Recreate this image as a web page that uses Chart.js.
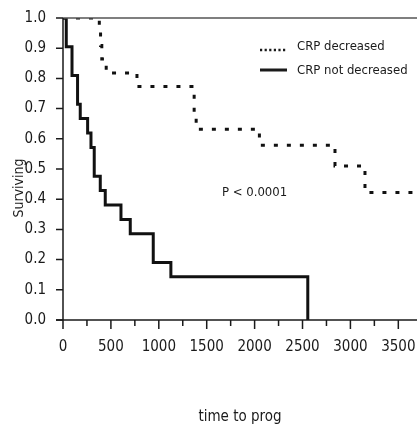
<!DOCTYPE html>
<html>
<head>
<meta charset="utf-8">
<script src="https://cdn.jsdelivr.net/npm/chart.js@4.4.1/dist/chart.umd.min.js"></script>
<style>
    html, body { margin: 0; padding: 0; background: #fff; overflow: hidden; }
    #wrap { width: 417px; height: 426px; position: relative; }
</style>
</head>
<body>
<div id="wrap"><canvas id="km"></canvas></div>
<script>
// Kaplan-Meier steps (time, surviving fraction)
const crpDecTime = [0, 379, 392, 405, 451, 772, 1369, 1390, 2050, 2839, 3152, 3695];
const crpDecSurv = [1.0, 0.955, 0.909, 0.864, 0.818, 0.773, 0.682, 0.632, 0.579, 0.51, 0.422, 0.422];

const crpNotTime = [0, 34, 94, 152, 180, 257, 292, 326, 389, 441, 605, 702, 942, 1126, 2555];
const crpNotSurv = [1.0, 0.905, 0.81, 0.714, 0.667, 0.619, 0.571, 0.476, 0.429, 0.381, 0.333, 0.286, 0.19, 0.143, 0];

const xTickValues = [0, 500, 1000, 1500, 2000, 2500, 3000, 3500];
const seriesNames = ["CRP decreased", "CRP not decreased"];
const pText = "P < 0.0001";
const xTitle = "time to prog";
const yTitle = "Surviving";

const narrow = "'DejaVu Sans Condensed', 'Liberation Sans Narrow', 'Arial Narrow', sans-serif";
const ink = "#1a1a1a";

const toPoints = (t, s) => t.map((v, i) => ({ x: v, y: s[i] }));

// axes, ticks, frame line, legend and annotations
const kmFrame =
{
    id: 'kmFrame',
    afterDraw(chart)
    {
        const ctx = chart.ctx;
        const area = chart.chartArea;
        const xs = chart.scales.x;
        const ys = chart.scales.y;

        ctx.save();
        ctx.lineCap = 'butt';

        // top frame line
        ctx.strokeStyle = '#555';
        ctx.lineWidth = 1.5;
        ctx.beginPath();
        ctx.moveTo(area.left, area.top);
        ctx.lineTo(area.right, area.top);
        ctx.stroke();

        // y axis + ticks
        ctx.strokeStyle = ink;
        ctx.lineWidth = 1.5;
        ctx.beginPath();
        ctx.moveTo(area.left, area.top);
        ctx.lineTo(area.left, area.bottom);
        ys.ticks.forEach(t =>
        {
            const py = ys.getPixelForValue(t.value);
            ctx.moveTo(area.left - 7, py);
            ctx.lineTo(area.left, py);
        });
        ctx.stroke();

        // x axis + major/minor ticks
        ctx.beginPath();
        ctx.moveTo(area.left - 7, area.bottom);
        ctx.lineTo(area.right, area.bottom);
        for (let v = 0; v <= xs.max; v += 250)
        {
            const px = xs.getPixelForValue(v);
            const len = (v % 500 === 0) ? 9 : 6;
            ctx.moveTo(px, area.bottom);
            ctx.lineTo(px, area.bottom + len);
        }
        ctx.stroke();

        // legend
        ctx.lineWidth = 2.5;
        ctx.setLineDash([2.2, 2.4]);
        ctx.beginPath();
        ctx.moveTo(260, 50);
        ctx.lineTo(287, 50);
        ctx.stroke();
        ctx.setLineDash([]);
        ctx.lineWidth = 3;
        ctx.beginPath();
        ctx.moveTo(260, 70);
        ctx.lineTo(287, 70);
        ctx.stroke();

        ctx.fillStyle = ink;
        ctx.font = "13px " + narrow;
        ctx.textAlign = 'left';
        ctx.textBaseline = 'middle';
        ctx.fillText(seriesNames[0], 297, 47);
        ctx.fillText(seriesNames[1], 297, 71);

        // p value
        ctx.fillText(pText, 222, 193);

        // y title
        ctx.font = "14px " + narrow;
        ctx.translate(19, 188);
        ctx.rotate(-Math.PI / 2);
        ctx.textAlign = 'center';
        ctx.fillText(yTitle, 0, 0);

        ctx.restore();
    }
};

new Chart(document.getElementById('km'),
{
    type: 'line',

    data:
    {
        datasets:
        [
            {
                label: seriesNames[0],
                data: toPoints(crpDecTime, crpDecSurv),
                stepped: true,
                borderColor: '#111',
                borderWidth: 3,
                borderDash: [4, 9],
                pointRadius: 0,
                fill: false
            },
            {
                label: seriesNames[1],
                data: toPoints(crpNotTime, crpNotSurv),
                stepped: true,
                borderColor: '#111',
                borderWidth: 3,
                pointRadius: 0,
                fill: false
            }
        ]
    },

    options:
    {
        responsive: true,
        maintainAspectRatio: false,
        animation: false,

        layout:
        {
            padding: { top: 16, right: 0, bottom: 0, left: 0 }
        },

        plugins:
        {
            legend: { display: false },
            tooltip: { enabled: false }
        },

        scales:
        {
            x:
            {
                type: 'linear',
                min: 0,
                max: 3695,
                grid: { display: false },
                border: { display: false },
                afterFit: (scale) =>
                {
                    scale.height = 106;
                    scale.paddingLeft = 0;
                    scale.paddingRight = 0;
                },
                afterBuildTicks: (scale) => { scale.ticks = xTickValues.map(v => ({ value: v })); },
                ticks:
                {
                    padding: 10,
                    color: ink,
                    maxRotation: 0,
                    autoSkip: false,
                    font: { family: narrow, size: 15 },
                    callback: (v) => String(v)
                },
                title:
                {
                    display: true,
                    text: xTitle,
                    color: ink,
                    padding: { top: 0, bottom: 0 },
                    font: { family: narrow, size: 15 }
                }
            },

            y:
            {
                min: 0,
                max: 1,
                grid: { display: false },
                border: { display: false },
                afterFit: (scale) => { scale.width = 63; },
                ticks:
                {
                    stepSize: 0.1,
                    padding: 9,
                    color: ink,
                    font: { family: narrow, size: 15 },
                    callback: (v) => Number(v).toFixed(1)
                }
            }
        }
    },

    plugins: [kmFrame]
});
</script>
</body>
</html>
